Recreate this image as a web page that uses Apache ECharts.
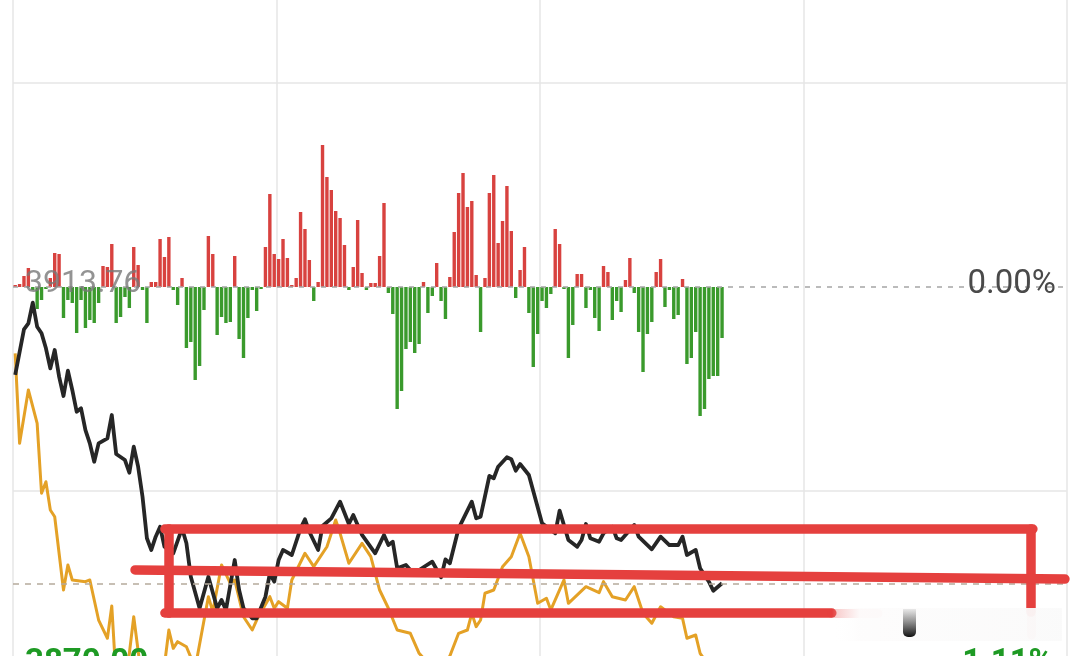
<!DOCTYPE html>
<html><head><meta charset="utf-8">
<script src="https://cdn.jsdelivr.net/npm/echarts@6/dist/echarts.min.js"></script>
<style>html,body{margin:0;padding:0;background:#fff;overflow:hidden}#c{width:1080px;height:656px}</style>
</head><body><div id="c"></div>
<script>
// ---- data ----
// minute-by-minute flow bars (positive = red, negative = green), arbitrary units
const flowBars = [2,3,11,19,-3,-22,-13,-2,9,34,
33,-31,-13,-16,-46,-13,-41,-33,-36,-16,
21,20,43,-36,-30,-10,-21,40,22,-3,
-36,5,5,48,30,50,-3,-18,9,-61,
-55,-93,-79,-23,51,33,-48,-30,-36,-35,
31,-52,-71,-31,-3,-24,-2,40,93,33,
28,48,29,2,9,75,58,27,-14,5,
142,110,97,76,69,42,-3,20,67,14,
-3,4,4,31,84,-6,-27,-122,-104,-62,
-55,-66,-57,5,-26,-9,24,-14,-32,10,
55,94,114,80,86,12,-45,9,94,112,
44,66,101,56,-11,17,40,-26,-80,-47,
-14,-21,-7,58,43,-2,-71,-38,13,13,
-21,-3,-31,-44,21,15,-33,-14,-25,7,
29,-6,-45,-85,-47,-35,15,28,-20,-3,
-32,-28,8,-77,-71,-45,-129,-122,-92,-89,
-89,-51];

// price line (black): minute index + price
const priceIdx = [0,2,3,4,5,6,7,8,9,10,11,12,13,14,15,16,17,18,19,21,22,23,25,26,27,28,29,30,31,32,33,34,36,38,39,40,42,44,46,47,48,50,51,52,54,55,57,58,59,60,61,63,65,66,67,69,70,72,74,76,77,79,82,84,85,86,87,89,90,92,95,97,98,99,101,104,105,106,108,109,110,112,113,114,115,117,120,123,124,126,128,129,130,131,133,134,136,137,138,141,142,145,147,149,151,152,153,155,156,158,159,161];
const priceVals = [3903.44,3908.80,3909.50,3911.92,3909.10,3908.33,3906.57,3904.22,3906.37,3903.24,
3900.97,3903.94,3901.68,3899.13,3899.53,3896.98,3895.42,3893.26,3895.42,3896.01,
3898.74,3894.17,3893.46,3891.97,3895.02,3892.68,3889.16,3884.28,3882.91,3884.47,
3885.64,3883.29,3882.52,3885.45,3883.69,3879.77,3876.07,3879.77,3876.07,3877.04,
3875.87,3881.73,3878.21,3876.07,3874.89,3874.89,3877.43,3880.17,3879.19,3881.73,
3882.91,3882.32,3885.45,3886.51,3885.05,3882.91,3885.72,3886.62,3888.57,3885.96,
3887.01,3884.67,3882.52,3884.67,3883.49,3883.88,3880.76,3881.15,3880.56,3880.56,
3881.53,3879.70,3881.81,3881.35,3885.45,3888.57,3886.62,3886.81,3891.59,3891.32,
3892.68,3893.78,3893.55,3892.21,3892.99,3891.70,3886.04,3884.86,3887.52,3884.08,
3883.29,3884.08,3885.96,3884.28,3883.88,3884.86,3885.64,3884.28,3884.08,3885.84,
3884.47,3882.99,3884.47,3883.49,3883.49,3884.47,3882.32,3882.91,3880.76,3879.19,
3878.13,3879.00];

// second line (orange)
const avgIdx = [0,1,3,5,6,7,8,9,11,12,13,16,17,19,21,22,23,25,27,29,31,34,35,36,37,39,41,44,45,47,49,50,52,54,55,58,59,60,62,63,66,68,71,73,74,76,79,81,83,85,87,90,92,95,97,99,101,103,104,105,106,107,109,111,113,115,117,119,121,122,125,126,130,133,134,136,139,141,143,145,147,150,152,153,155,156,159,161];
const avgVals = [3905.98,3895.42,3901.68,3897.77,3889.56,3890.92,3887.60,3886.81,3878.21,3881.15,
3879.39,3879.19,3879.39,3874.69,3872.55,3876.34,3867.65,3866.48,3875.08,3867.07,
3866.48,3869.41,3873.52,3871.37,3872.15,3871.56,3869.06,3877.43,3875.67,3881.15,
3879.00,3879.39,3875.08,3873.52,3874.69,3877.43,3876.07,3876.84,3876.07,3879.39,
3882.52,3880.95,3883.29,3886.43,3884.86,3881.35,3883.69,3882.12,3878.21,3876.07,
3873.52,3873.13,3870.79,3869.06,3868.59,3870.47,3873.13,3873.52,3875.48,3873.91,
3874.69,3877.83,3878.21,3880.95,3882.12,3884.86,3882.12,3876.65,3877.24,3875.87,
3879.39,3876.65,3878.60,3877.90,3879.19,3877.43,3877.04,3878.60,3875.48,3874.31,
3876.25,3875.08,3874.89,3872.55,3872.93,3870.79,3868.59,3867.65];

const prevCloseText = '3913.76';
const zeroPctText = '0.00%';
const lowPriceText = '3870.00';
const lowPctText = '-1.11%';
const refPrice = 3878.98;          // dashed reference line
const priceAxisMin = 3870.47, priceAxisMax = 3947.43;
const barAxisMin = -369, barAxisMax = 287;

// hand-drawn red marks, in (minute, price) coordinates
const annoSolid = [
  [[34.6, 3885.37], [232.3, 3885.37]],
  [[35.5, 3885.37], [35.5, 3875.51]],
  [[34.6, 3875.51], [186.5, 3875.51]],
  [[231.9, 3885.37], [231.9, 3875.63]],
  [[27.8, 3880.56], [239.6, 3879.50]]
];
const annoFaded = [
  [[186.5, 3875.51], [197.0, 3875.51]],
  [[231.9, 3875.63], [231.9, 3872.93]]
];

// ---- chart ----
const RED = '#d8423f', GREEN = '#3a9a2c';
const chart = echarts.init(document.getElementById('c'));
const barData = flowBars.map((v, i) => [i + 0.5, v]);
const priceData = priceIdx.map((t, k) => [t + 0.5, priceVals[k]]);
const avgData = avgIdx.map((t, k) => [t + 0.5, avgVals[k]]);
const segs = (list) => list.map(s => [{coord: s[0]}, {coord: s[1]}]);

chart.setOption({
  animation: false,
  backgroundColor: '#ffffff',
  grid: [
    {left: 13, right: 13.3, top: 0, bottom: 0},
    {left: 13, right: 13.3, top: 83, bottom: 165.5}
  ],
  xAxis: [
    {type: 'value', gridIndex: 0, min: 0, max: 240, interval: 60,
     axisLine: {show: false}, axisTick: {show: false}, axisLabel: {show: false},
     splitLine: {show: true, lineStyle: {color: '#e6e6e6', width: 1.5}}},
    {type: 'value', gridIndex: 1, min: 0, max: 240, show: false}
  ],
  yAxis: [
    {type: 'value', gridIndex: 0, min: barAxisMin, max: barAxisMax, show: false},
    {type: 'value', gridIndex: 0, min: priceAxisMin, max: priceAxisMax, show: false},
    {type: 'value', gridIndex: 1, min: 0, max: 2, interval: 1,
     axisLine: {show: false}, axisTick: {show: false}, axisLabel: {show: false},
     splitLine: {show: true, lineStyle: {color: ['#e6e6e6', 'rgba(0,0,0,0)', '#e6e6e6'], width: 1.5}}}
  ],
  series: [
    {type: 'bar', xAxisIndex: 0, yAxisIndex: 0, barWidth: 3.4, data: barData, z: 2,
     itemStyle: {color: p => p.value[1] >= 0 ? RED : GREEN},
     markLine: {silent: true, symbol: 'none', label: {show: false},
       lineStyle: {type: [5, 6], color: '#a5a5a5', width: 1.6}, data: [{yAxis: 0}]}},
    {type: 'line', xAxisIndex: 0, yAxisIndex: 1, data: avgData, symbol: 'none', z: 3,
     lineStyle: {color: '#e4a126', width: 3, join: 'round'},
     markLine: {silent: true, symbol: 'none', label: {show: false},
       lineStyle: {type: [6, 6], color: '#b5ab9c', width: 1.6}, data: [{yAxis: refPrice}]}},
    {type: 'line', xAxisIndex: 0, yAxisIndex: 1, data: priceData, symbol: 'none', z: 4,
     lineStyle: {color: '#262626', width: 3.8, join: 'round'}},
    {type: 'line', xAxisIndex: 0, yAxisIndex: 1, data: [], z: 10,
     markLine: {silent: true, symbol: 'none', label: {show: false},
       lineStyle: {type: 'solid', color: '#e5403e', width: 9.5, cap: 'round'},
       data: segs(annoSolid)}},
    {type: 'line', xAxisIndex: 0, yAxisIndex: 1, data: [], z: 9,
     markLine: {silent: true, symbol: 'none', label: {show: false},
       lineStyle: {type: 'solid', color: 'rgba(229,64,62,0.3)', width: 9, cap: 'round'},
       data: segs(annoFaded)}}
  ],
  graphic: [
    {type: 'text', x: 25, y: 284, z: 100, style: {text: prevCloseText, font: '32px Roboto',
      fill: 'rgba(120,120,120,0.8)', align: 'left', verticalAlign: 'middle'}},
    {type: 'text', x: 1056, y: 285, z: 100, style: {text: zeroPctText, font: '33px Roboto',
      fill: '#4a4a4a', align: 'right', verticalAlign: 'middle'}},
    {type: 'text', x: 25, y: 664, z: 100, style: {text: lowPriceText, font: 'bold 33px Roboto',
      fill: '#1e9a24', align: 'left', verticalAlign: 'middle'}},
    {type: 'text', x: 1053, y: 664, z: 100, style: {text: lowPctText, font: 'bold 33px Roboto',
      fill: '#1e9a24', align: 'right', verticalAlign: 'middle'}},
    {type: 'rect', z: 90, shape: {x: 832, y: 608, width: 230, height: 33},
      style: {fill: new echarts.graphic.LinearGradient(0, 0, 1, 0, [
        {offset: 0, color: 'rgba(255,255,255,0)'}, {offset: 0.12, color: 'rgba(253,252,252,0.95)'},
        {offset: 1, color: 'rgba(250,250,250,0.95)'}])}},
    {type: 'rect', z: 91, shape: {x: 903, y: 609, width: 13, height: 28, r: [0, 0, 5, 5]},
      style: {fill: new echarts.graphic.LinearGradient(0, 0, 0, 1, [
        {offset: 0, color: 'rgba(60,60,60,0.1)'}, {offset: 1, color: '#111'}])}}
  ]
});
</script>
</body></html>
